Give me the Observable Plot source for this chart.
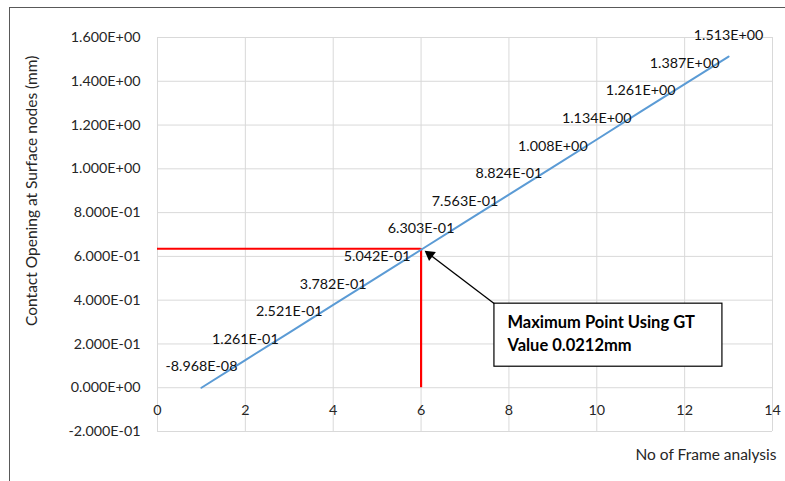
<!DOCTYPE html>
<html>
<head>
<meta charset="utf-8">
<script src="https://cdn.jsdelivr.net/npm/d3@7"></script>
<script src="https://cdn.jsdelivr.net/npm/@observablehq/plot@0.6"></script>
<style>
  html, body { margin: 0; padding: 0; background: #fff; }
  #wrap { position: relative; width: 785px; height: 481px; overflow: hidden; }
  #border { position: absolute; left: 9px; top: 7px; right: -5px; bottom: -5px;
            border-left: 1.5px solid #595959; border-top: 1.5px solid #595959; pointer-events: none; }
</style>
</head>
<body>
<div id="wrap"><div id="border"></div></div>
<script>
// ---- data ----
const frames = [1, 2, 3, 4, 5, 6, 7, 8, 9, 10, 11, 12, 13];
const opening = [-8.968e-8, 0.1261, 0.2521, 0.3782, 0.5042, 0.6303, 0.7563, 0.8824, 1.008, 1.134, 1.261, 1.387, 1.513];
const xTicks = [0, 2, 4, 6, 8, 10, 12, 14];
const yTicks = [-0.2, 0, 0.2, 0.4, 0.6, 0.8, 1.0, 1.2, 1.4, 1.6];
const markerX = [6];
const markerY = [0.635];
const noteText = "Maximum Point Using GT\nValue 0.0212mm";
const noteBox = {x1: 7.67, x2: 12.86, y1: 0.096, y2: 0.384};
const arrowFrom = {x: 7.67, y: 0.384};
const arrowTo = {x: 6.12, y: 0.62};
const yTitle = "Contact Opening at Surface nodes (mm)";
const xTitle = "No of Frame analysis";

function sci(v) {
  if (Math.abs(v) < 1e-15) return "0.000E+00";
  const [m, e] = v.toExponential(3).split("e");
  return m + "E" + e[0] + e.slice(1).padStart(2, "0");
}

const points = frames.map((f, i) => ({x: f, y: opening[i], label: sci(opening[i])}));
const font = "Lato, 'Open Sans', sans-serif";

const chart = Plot.plot({
  width: 785,
  height: 481,
  marginLeft: 157,
  marginRight: 13,
  marginTop: 37,
  marginBottom: 50,
  style: {fontFamily: font, fontSize: "14.3px", color: "#262626", background: "transparent"},
  x: {domain: [0, 14]},
  y: {domain: [-0.2, 1.6]},
  marks: [
    Plot.gridX(xTicks, {stroke: "#d9d9d9", strokeOpacity: 1, strokeWidth: 1}),
    Plot.gridY(yTicks, {stroke: "#d9d9d9", strokeOpacity: 1, strokeWidth: 1}),
    Plot.axisY(yTicks, {tickSize: 0, tickPadding: 17, tickFormat: sci, label: null, fontSize: 14.3}),
    Plot.axisX({ticks: [], label: null, tickSize: 0}),
    Plot.text(xTicks, {x: d => d, y: 0, dy: 23, text: d => String(d), fontSize: 14.3}),
    Plot.text([yTitle], {x: 0, y: 0.9, dx: -125, rotate: -90, text: d => d, fontSize: 15.5, textAnchor: "middle"}),
    Plot.text([xTitle], {frameAnchor: "bottom-right", dx: 4, dy: 28, text: d => d, fontSize: 15.5, textAnchor: "end"}),
    // red reference lines
    Plot.ruleY(markerY, {x1: 0, x2: markerX[0], stroke: "#ff0000", strokeWidth: 2.2}),
    Plot.ruleX(markerX, {y1: 0, y2: markerY[0], stroke: "#ff0000", strokeWidth: 2.2}),
    // series
    Plot.line(points, {x: "x", y: "y", stroke: "#5b9bd5", strokeWidth: 2}),
    Plot.text(points, {x: "x", y: "y", text: "label", dy: -21, fontSize: 14.3, fill: "#111"}),
    // annotation
    Plot.link([0], {x1: () => arrowFrom.x, y1: () => arrowFrom.y, x2: () => arrowTo.x, y2: () => arrowTo.y,
                    stroke: "#000", strokeWidth: 1.3}),
    Plot.dot([0], {x: () => arrowTo.x, y: () => arrowTo.y, dx: 3.5, dy: 2.6, symbol: "triangle", r: 4.2,
                   rotate: -53, fill: "#000", stroke: "none"}),
    Plot.rect([noteBox], {x1: "x1", x2: "x2", y1: "y1", y2: "y2", fill: "#fff", stroke: "#000", strokeWidth: 1.2}),
    Plot.text([noteText], {x: noteBox.x1, y: noteBox.y2, dx: 13, dy: 9, text: d => d, textAnchor: "start",
                           lineAnchor: "top", lineHeight: 1.35, fontWeight: "bold", fontSize: 16.5, fill: "#000"})
  ]
});
document.getElementById("wrap").prepend(chart);
</script>
</body>
</html>
